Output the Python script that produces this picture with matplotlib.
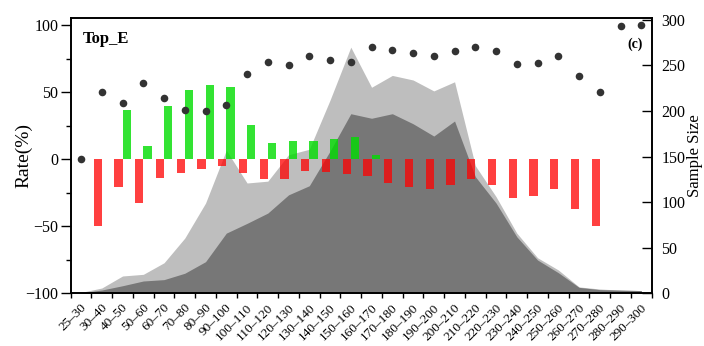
import numpy as np
import matplotlib
matplotlib.use('Agg')
import matplotlib.pyplot as plt
from matplotlib.ticker import MultipleLocator
from matplotlib.transforms import ScaledTranslation

categories = ["25–30", "30–40", "40–50", "50–60", "60–70", "70–80", "80–90",
              "90–100", "100–110", "110–120", "120–130", "130–140", "140–150",
              "150–160", "160–170", "170–180", "180–190", "190–200", "200–210",
              "210–220", "220–230", "230–240", "240–250", "250–260", "260–270",
              "270–280", "280–290", "290–300"]

rate_points = [0, 50, 41.8, 57, 45.5, 37, 36.4, 40.6, 64, 72.3, 70.6, 77.3, 74.3,
               72.6, 84, 81.7, 79, 77.3, 80.5, 83.7, 80.5, 71.3, 71.8, 77.5,
               62.4, 49.9, 99.8, 100]

increase = [0, 0, 37.1, 9.7, 39.6, 52, 55.7, 53.7, 25.5, 11.9, 13.9, 13.6, 15.4,
            16.4, 3, 0.6, 0, 0.6, 0, 0.6, 0, 0, 0, 0, 0, 0, 0, 0]

decrease = [0, -49.5, -20.6, -32.7, -13.6, -9.9, -6.9, -5, -9.9, -14.9, -14.4,
            -8.7, -9.4, -10.9, -12.4, -17.8, -20.3, -21.8, -19.1, -14.9, -19.1,
            -28.5, -27.7, -22, -37.4, -49.8, 0, 0]

total_samples = [1, 5.8, 19, 20.8, 33.5, 60.6, 99, 157, 121, 123, 152, 158, 212,
                 270, 226, 239, 234, 222, 232, 140, 106, 66, 39, 25.6, 7, 4.7,
                 3.5, 3]

subset_samples = [0.5, 3.6, 8.3, 13.5, 15, 22, 34.7, 66, 76.7, 88, 108, 118, 156,
                  197, 192, 197, 186, 172.5, 189, 128, 99, 62, 36.5, 22.6, 6.5,
                  4, 3.5, 3]

plt.rcParams['font.family'] = ['Liberation Serif', 'DejaVu Serif']

fig = plt.figure(figsize=(7.04, 3.46), dpi=100)
ax = fig.add_axes([0.1004, 0.1523, 0.8253, 0.7957])
ax2 = ax.twinx()
ax.set_zorder(ax2.get_zorder() + 1)
ax.patch.set_visible(False)

x = np.arange(len(categories))

ax2.fill_between(x, 0, total_samples, color='#bebebe', lw=0)
ax2.fill_between(x, 0, subset_samples, color='#777777', lw=0)

ax.bar(x - 0.2, decrease, 0.4, color='#ff0000', alpha=0.75, lw=0)
ax.bar(x + 0.2, increase, 0.4, color='#00dd00', alpha=0.8, lw=0)
ax.scatter(x, rate_points, s=30, color='#333333', lw=0, zorder=3)

ax.set_xlim(-0.5, len(categories) - 0.5)
ax.set_ylim(-100, 105.5)
ax2.set_ylim(0, 302)

ax.set_yticks([-100, -50, 0, 50, 100])
ax.yaxis.set_minor_locator(MultipleLocator(25))
ax.tick_params(axis='y', which='major', direction='out', length=7, width=1,
               labelsize=11.5, pad=2)
ax.tick_params(axis='y', which='minor', direction='out', length=3.5, width=1)

ax.set_xticks(x)
ax.set_xticklabels(categories, rotation=45, ha='right', fontsize=9.5)
ax.tick_params(axis='x', which='major', length=0, pad=6)
ax.set_xticks(np.arange(-0.5, len(categories), 1), minor=True)
ax.tick_params(axis='x', which='minor', direction='out', length=3.5, width=1)
offset = ScaledTranslation(0.08, 0, fig.dpi_scale_trans)
for lab in ax.get_xticklabels():
    lab.set_transform(lab.get_transform() + offset)

ax2.set_yticks([0, 50, 100, 150, 200, 250, 300])
ax2.tick_params(axis='y', direction='in', length=7, width=1, labelsize=11.5, pad=7)

for a in (ax, ax2):
    for s in a.spines.values():
        s.set_linewidth(1.2)

ax.set_ylabel('Rate(%)', fontsize=14, labelpad=-5)
ax2.set_ylabel('Sample Size', fontsize=12, labelpad=1)

ax.text(0.021, 0.924, 'Top_E', transform=ax.transAxes, fontweight='bold',
        fontsize=12, ha='left', va='center')
ax.text(0.985, 0.905, '(c)', transform=ax.transAxes, fontweight='bold',
        fontsize=10, ha='right', va='center')

fig.savefig('out.png', dpi=100)
